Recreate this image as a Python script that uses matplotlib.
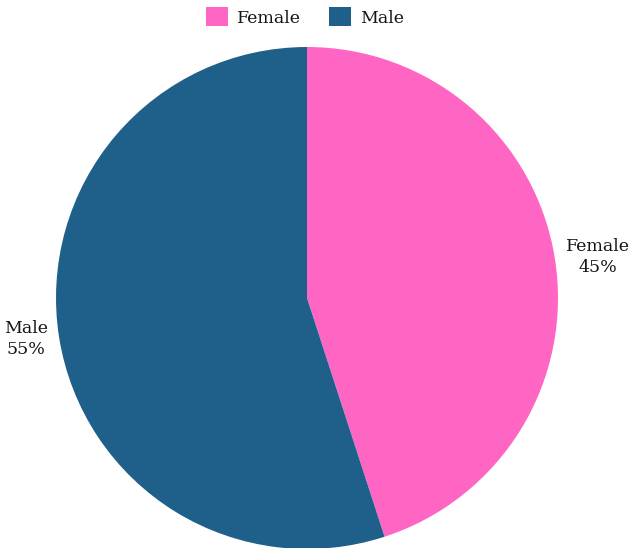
import matplotlib.pyplot as plt
import numpy as np

labels = ['Female', 'Male']
values = [45, 55]
colors = ['#ff66c4', '#1f608b']

plt.rcParams['font.family'] = ['DejaVu Serif']

fig = plt.figure(figsize=(6.3, 5.48), dpi=100)
ax = fig.add_axes([0, 0, 1, 1])

wedges, texts = ax.pie(values, colors=colors, startangle=90, counterclock=False,
                       labels=[f'{l}\n{v}%' for l, v in zip(labels, values)],
                       labeldistance=1.045, textprops={'fontsize': 12.5, 'color': '#151515'})
for t in texts:
    t.set_multialignment('center')
    t.set_va('center')
    t.set_linespacing(1.25)

r = 251.0
ax.set_xlim(-307 / r, 323 / r)
ax.set_ylim(-250 / r, 298 / r)
ax.set_aspect('auto')
ax.axis('off')

ax.legend(wedges, labels, loc='upper center', bbox_to_anchor=(0.484, 1.015), ncol=2,
          frameon=False, fontsize=12.5, handlelength=1.3, handleheight=1.3,
          columnspacing=1.6, handletextpad=0.5, labelcolor='#151515')

fig.savefig('out.png', dpi=100)
